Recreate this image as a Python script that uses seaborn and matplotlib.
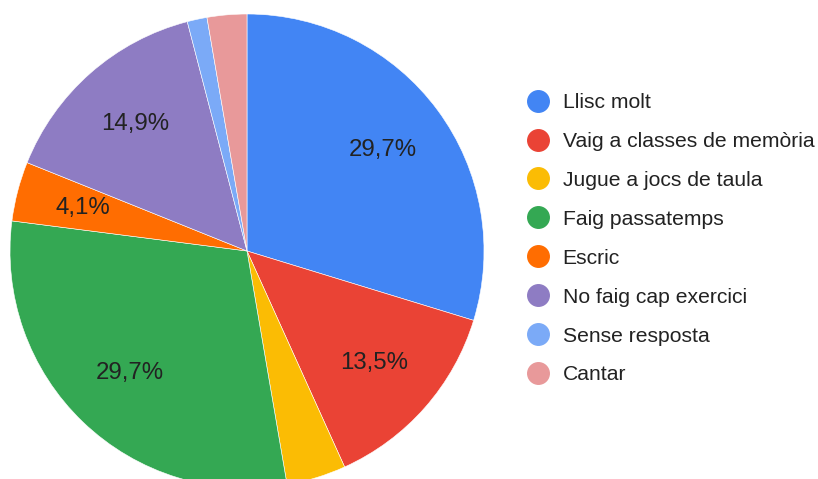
import matplotlib
matplotlib.use("Agg")
import matplotlib.pyplot as plt
import seaborn as sns
from matplotlib.lines import Line2D

categories = [
    "Llisc molt",
    "Vaig a classes de memòria",
    "Jugue a jocs de taula",
    "Faig passatemps",
    "Escric",
    "No faig cap exercici",
    "Sense resposta",
    "Cantar",
]
counts = [22, 10, 3, 22, 3, 11, 1, 2]
# Google Charts hides the label on slices too thin for the text
show_label = [True, True, False, True, True, True, False, False]
colors = ["#4285F4", "#EA4335", "#FBBC04", "#34A853", "#FF6D01", "#8E7CC3", "#7BAAF7", "#E8999A"]

sns.set_theme(style="white")
plt.rcParams["font.family"] = ["Liberation Sans", "DejaVu Sans"]

fig = plt.figure(figsize=(8.18, 4.79), dpi=100)
ax = fig.add_axes([10 / 818, -9 / 479, 474 / 818, 474 / 479])

total = sum(counts)
pct_labels = [
    f"{c / total * 100:.1f}%".replace(".", ",") if s else ""
    for c, s in zip(counts, show_label)
]

wedges, texts = ax.pie(
    counts,
    colors=colors,
    labels=pct_labels,
    labeldistance=0.715,
    startangle=90,
    counterclock=False,
    radius=1.0,
    wedgeprops=dict(edgecolor="white", linewidth=0.4),
    textprops=dict(fontsize=17.3, color="#222222", ha="center", va="center"),
)
ax.set_xlim(-1, 1)
ax.set_ylim(-1, 1)
ax.set_aspect("equal")
ax.axis("off")

handles = [
    Line2D([0], [0], marker="o", linestyle="", markersize=15.5,
           markerfacecolor=c, markeredgecolor=c)
    for c in colors
]
fig.legend(
    handles,
    categories,
    loc="upper left",
    bbox_to_anchor=(508 / 818, 1 - 74 / 479),
    frameon=False,
    fontsize=15.25,
    labelspacing=0.94,
    handlelength=1.0,
    handletextpad=0.68,
    labelcolor="#222222",
)

fig.savefig("out.png", dpi=100)
